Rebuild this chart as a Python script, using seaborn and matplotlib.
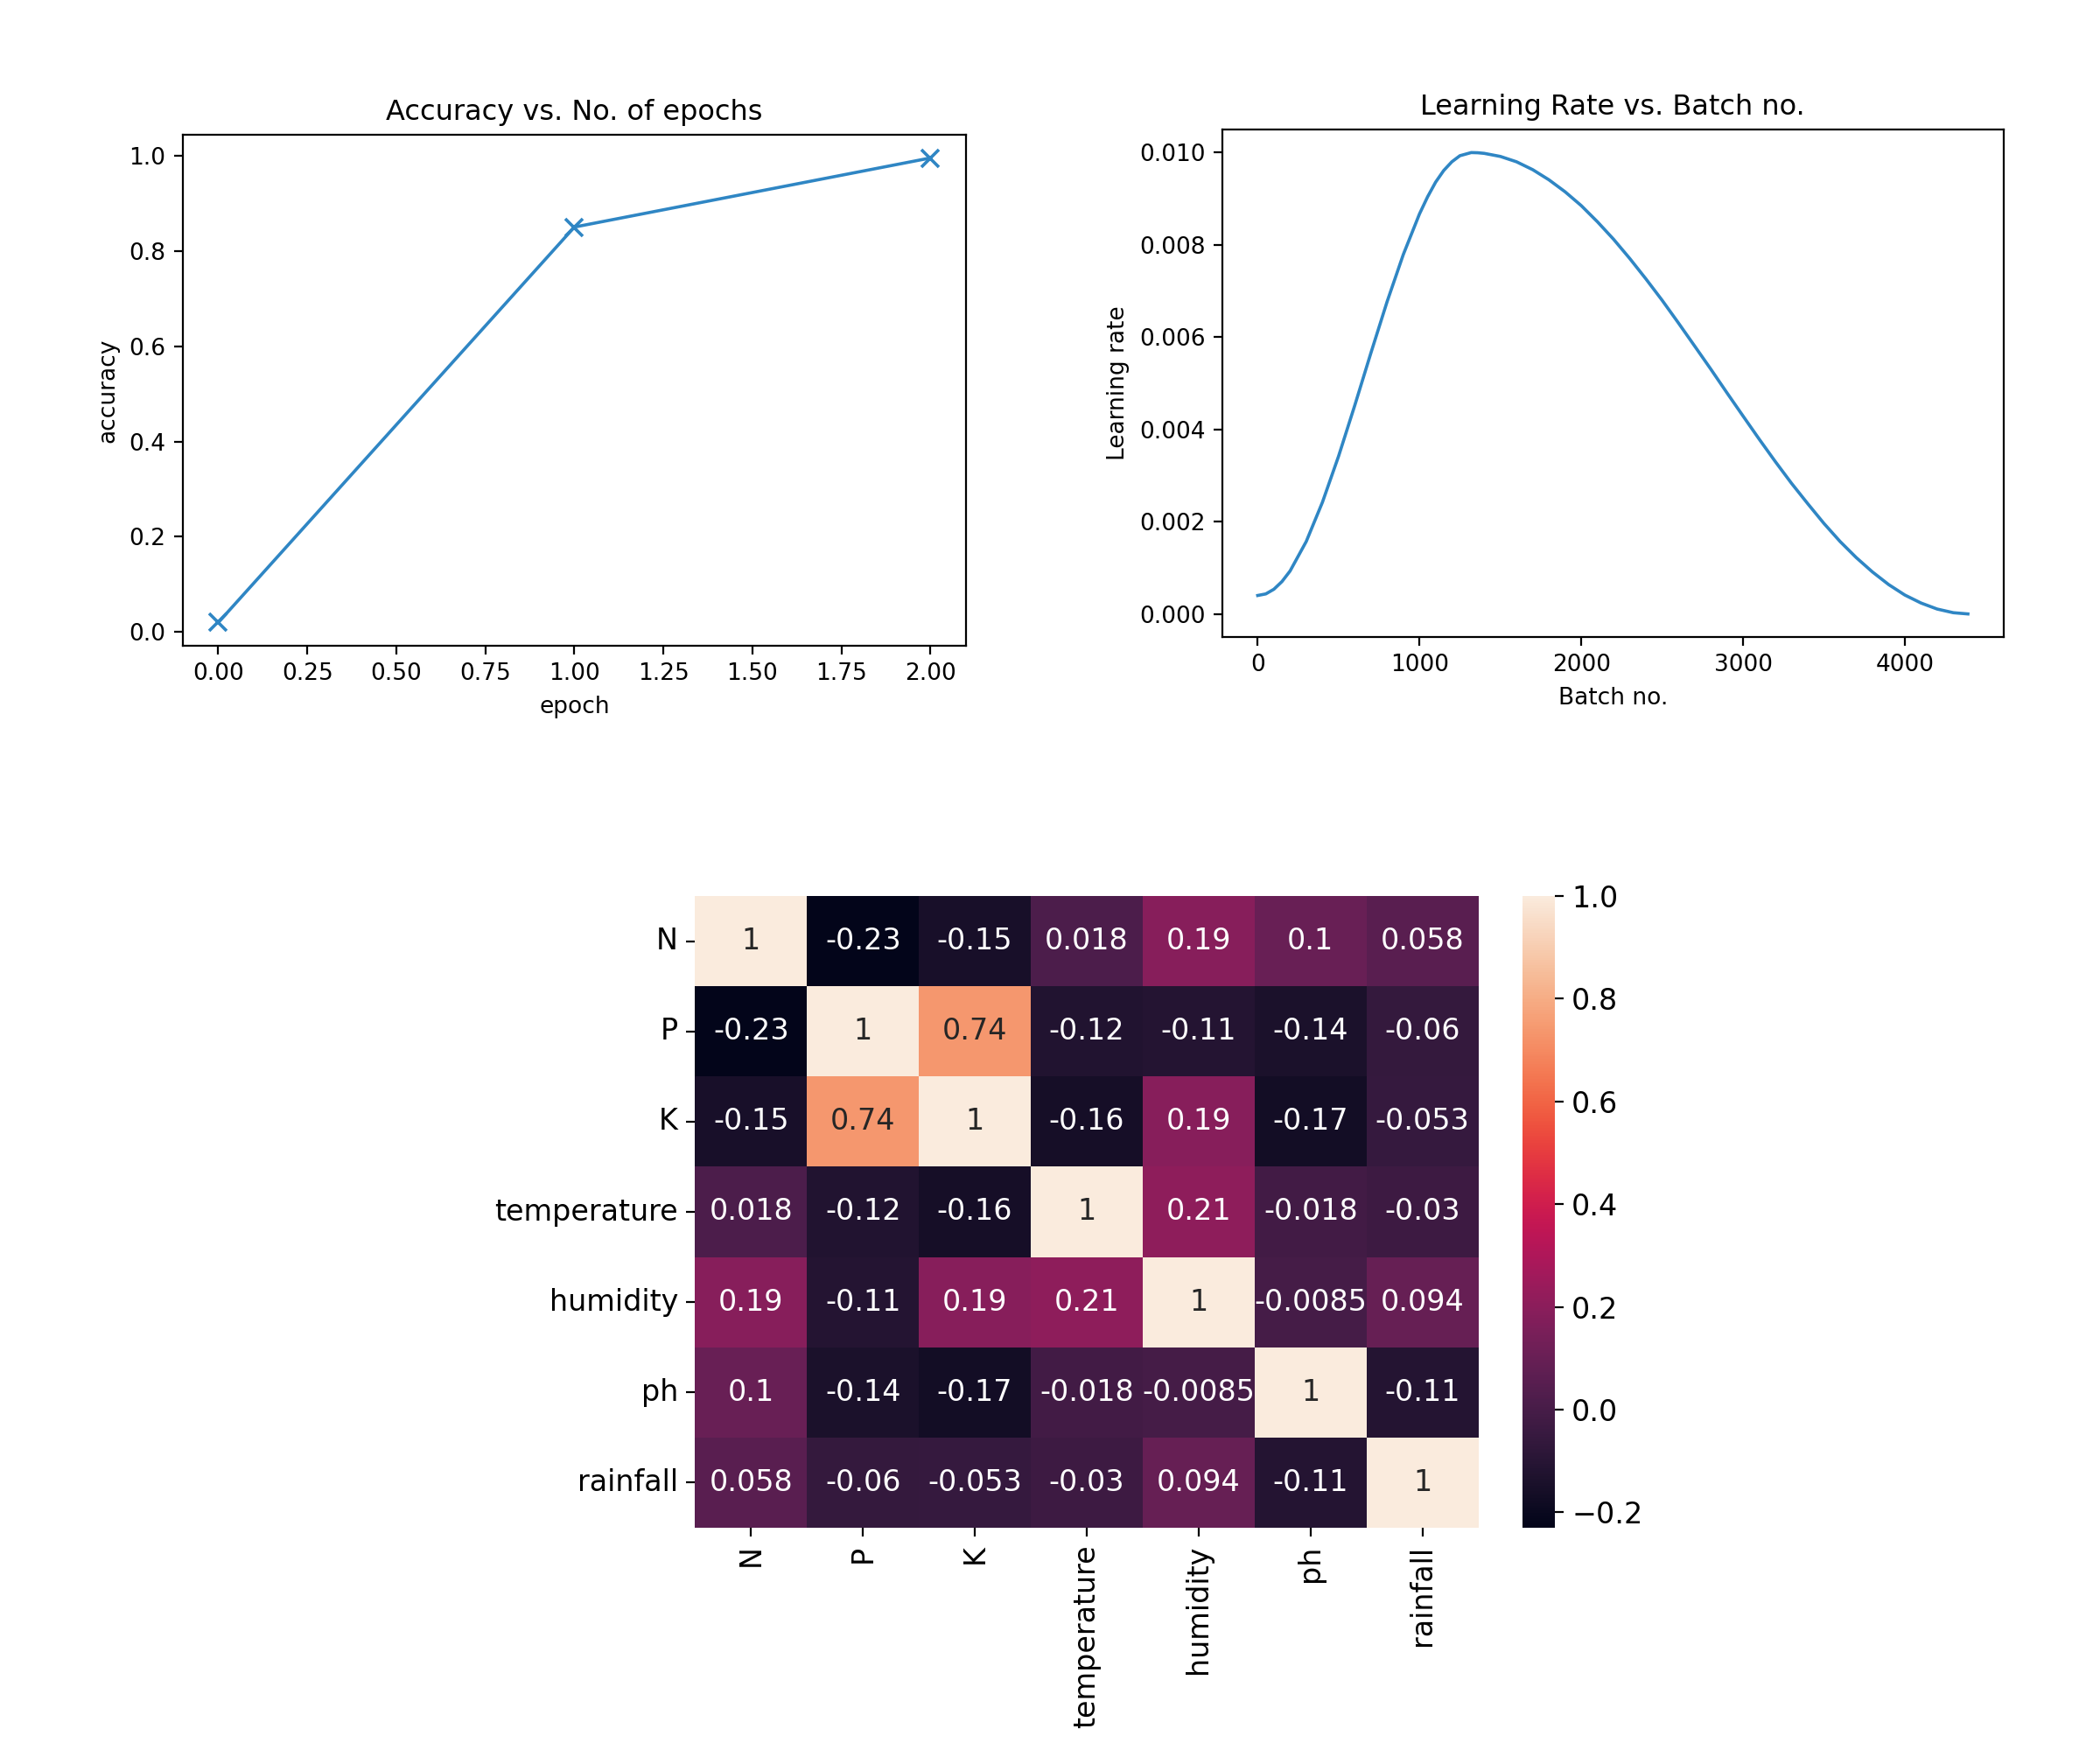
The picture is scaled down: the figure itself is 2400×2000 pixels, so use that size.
import numpy as np
import pandas as pd
import matplotlib
matplotlib.use("Agg")
import matplotlib.pyplot as plt
import seaborn as sns

# ---- data ----
epochs = [0, 1, 2]
accuracy = [0.02, 0.85, 0.995]

batch_no = [0, 50, 100, 150, 200, 300, 400, 500, 600, 700, 800, 900, 1000, 1050, 1100,
            1150, 1200, 1250, 1320, 1360, 1400, 1500, 1600, 1700, 1800, 1900, 2000, 2100,
            2200, 2300, 2400, 2500, 2600, 2700, 2800, 2900, 3000, 3100, 3200, 3300, 3400,
            3500, 3600, 3700, 3800, 3900, 4000, 4100, 4200, 4300, 4390]
learning_rate = [0.00040, 0.000434, 0.000535, 0.000702, 0.00093, 0.00157, 0.00242, 0.00342,
                 0.00452, 0.00566, 0.00677, 0.00779, 0.00867, 0.00904, 0.00936,
                 0.009612, 0.00980, 0.009932, 0.01000, 0.009996, 0.009983, 0.009916,
                 0.00980, 0.009629, 0.00941, 0.00915, 0.00885, 0.00850,
                 0.00812, 0.007703, 0.00726, 0.006798, 0.00631, 0.005811, 0.00531,
                 0.004796, 0.00429, 0.003788, 0.00330, 0.00283, 0.00239,
                 0.001962, 0.00157, 0.001221, 0.00091, 0.000637, 0.00041, 0.000237,
                 0.000106, 0.0000265, 0.0]

features = ["N", "P", "K", "temperature", "humidity", "ph", "rainfall"]
corr_N = [1, -0.23, -0.15, 0.018, 0.19, 0.1, 0.058]
corr_P = [-0.23, 1, 0.74, -0.12, -0.11, -0.14, -0.06]
corr_K = [-0.15, 0.74, 1, -0.16, 0.19, -0.17, -0.053]
corr_temperature = [0.018, -0.12, -0.16, 1, 0.21, -0.018, -0.03]
corr_humidity = [0.19, -0.11, 0.19, 0.21, 1, -0.0085, 0.094]
corr_ph = [0.1, -0.14, -0.17, -0.018, -0.0085, 1, -0.11]
corr_rainfall = [0.058, -0.06, -0.053, -0.03, 0.094, -0.11, 1]

corr = pd.DataFrame([corr_N, corr_P, corr_K, corr_temperature, corr_humidity,
                     corr_ph, corr_rainfall], index=features, columns=features)

line_color = "#2f86c4"

fig = plt.figure(figsize=(12, 10), dpi=200)

# ---- accuracy plot ----
ax1 = fig.add_axes([0.087, 0.631, 0.373, 0.292])
sns.lineplot(x=epochs, y=accuracy, ax=ax1, marker="x", color=line_color,
             linewidth=1.3, markersize=7, markeredgewidth=1.3,
             markeredgecolor=line_color)
ax1.set_title("Accuracy vs. No. of epochs", fontsize=11.5)
ax1.set_xlabel("epoch", fontsize=9.5)
ax1.set_ylabel("accuracy", fontsize=9.5)
ax1.tick_params(labelsize=9.5)

# ---- learning rate plot ----
ax2 = fig.add_axes([0.582, 0.636, 0.372, 0.290])
sns.lineplot(x=batch_no, y=learning_rate, ax=ax2, color=line_color, linewidth=1.3)
ax2.set_title("Learning Rate vs. Batch no.", fontsize=11.5)
ax2.set_xlabel("Batch no.", fontsize=9.5)
ax2.set_ylabel("Learning rate", fontsize=9.5)
ax2.tick_params(labelsize=9.5)
ax2.set_xticks([0, 1000, 2000, 3000, 4000])

# ---- heatmap ----
ax3 = fig.add_axes([0.331, 0.127, 0.373, 0.361])
cax = fig.add_axes([0.725, 0.127, 0.0153, 0.361])
sns.heatmap(corr, annot=True, ax=ax3, cbar_ax=cax, annot_kws={"fontsize": 12})
ax3.tick_params(labelsize=12)
cax.tick_params(labelsize=12)

fig.savefig("out.png", dpi=200)
